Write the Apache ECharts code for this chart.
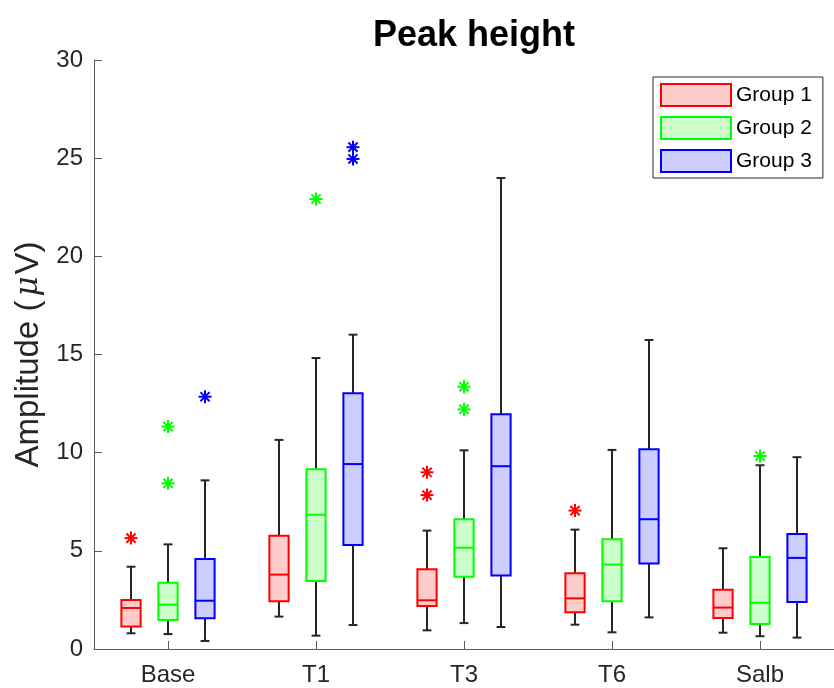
<!DOCTYPE html>
<html>
<head>
<meta charset="utf-8">
<title>Peak height</title>
<script src="https://cdn.jsdelivr.net/npm/echarts@6/dist/echarts.min.js"></script>
<style>
  html, body { margin: 0; padding: 0; background: #ffffff; }
  #chart { width: 834px; height: 688px; }
</style>
</head>
<body>
<div id="chart"></div>
<script>
// Sessions along the x axis
const categories = ['Base', 'T1', 'T3', 'T6', 'Salb'];
const groupNames = ['Group 1', 'Group 2', 'Group 3'];

// Box statistics per session: [lower whisker, Q1, median, Q3, upper whisker]
const group1Stats = [
  [0.80, 1.14, 2.09, 2.50, 4.19],
  [1.65, 2.43, 3.79, 5.77, 10.65],
  [0.95, 2.19, 2.48, 4.06, 6.03],
  [1.24, 1.87, 2.58, 3.86, 6.08],
  [0.83, 1.58, 2.11, 3.02, 5.13]
];
const group2Stats = [
  [0.76, 1.48, 2.26, 3.38, 5.33],
  [0.68, 3.46, 6.84, 9.15, 14.82],
  [1.32, 3.68, 5.16, 6.61, 10.12],
  [0.85, 2.43, 4.30, 5.59, 10.14],
  [0.65, 1.27, 2.36, 4.69, 9.36]
];
const group3Stats = [
  [0.41, 1.56, 2.46, 4.58, 8.59],
  [1.22, 5.30, 9.42, 13.03, 16.01],
  [1.12, 3.74, 9.31, 11.96, 23.99],
  [1.61, 4.35, 6.61, 10.17, 15.74],
  [0.58, 2.39, 4.64, 5.86, 9.77]
];

// Outliers: [session index, amplitude]
const group1Outliers = [[0, 5.65], [2, 9.00], [2, 7.84], [3, 7.05]];
const group2Outliers = [[0, 11.33], [0, 8.44], [1, 22.92], [2, 13.36], [2, 12.21], [4, 9.83]];
const group3Outliers = [[0, 12.85], [1, 25.56], [1, 24.96]];

// Y axis ticks
const yTicks = [0, 5, 10, 15, 20, 25, 30];

const edgeColors = ['#ff0000', '#00ff00', '#0000ff'];
const fillColors = ['#ffcccc', '#ccffcc', '#ccccff'];
const whiskerColor = '#262626';
const textColor = '#262626';
const fontFamily = '"Liberation Sans", Arial, Helvetica, sans-serif';

const allStats = [group1Stats, group2Stats, group3Stats];
const allOutliers = [group1Outliers, group2Outliers, group3Outliers];

// Horizontal placement inside a category band (fractions of band width)
const GROUP_OFFSET = 0.25;
const BOX_WIDTH = 0.13;
const CAP_WIDTH = 0.06;

function boxRenderer(g) {
  return function (params, api) {
    const cat = api.value(0);
    const band = api.size([1, 0])[0];
    const xc = api.coord([cat, 0])[0] + (g - 1) * GROUP_OFFSET * band;
    const py = k => api.coord([cat, api.value(k)])[1];
    const yLow = py(1), yQ1 = py(2), yMed = py(3), yQ3 = py(4), yHigh = py(5);
    const hw = BOX_WIDTH * band / 2;
    const cw = CAP_WIDTH * band / 2;
    const wStyle = { stroke: whiskerColor, lineWidth: 2 };
    return {
      type: 'group',
      children: [
        { type: 'line', shape: { x1: xc, y1: yQ3, x2: xc, y2: yHigh }, style: wStyle },
        { type: 'line', shape: { x1: xc, y1: yQ1, x2: xc, y2: yLow }, style: wStyle },
        { type: 'line', shape: { x1: xc - cw, y1: yHigh, x2: xc + cw, y2: yHigh }, style: wStyle },
        { type: 'line', shape: { x1: xc - cw, y1: yLow, x2: xc + cw, y2: yLow }, style: wStyle },
        {
          type: 'rect',
          shape: { x: xc - hw, y: yQ3, width: hw * 2, height: yQ1 - yQ3 },
          style: { fill: fillColors[g], stroke: edgeColors[g], lineWidth: 2 }
        },
        {
          type: 'line',
          shape: { x1: xc - hw, y1: yMed, x2: xc + hw, y2: yMed },
          style: { stroke: edgeColors[g], lineWidth: 2 }
        }
      ]
    };
  };
}

function outlierRenderer(g) {
  return function (params, api) {
    const cat = api.value(0);
    const band = api.size([1, 0])[0];
    const p = api.coord([cat, api.value(1)]);
    const x = p[0] + (g - 1) * GROUP_OFFSET * band;
    const y = p[1];
    const r = 6.5, d = 4.6;
    const st = { stroke: edgeColors[g], lineWidth: 2 };
    return {
      type: 'group',
      children: [
        { type: 'line', shape: { x1: x - r, y1: y, x2: x + r, y2: y }, style: st },
        { type: 'line', shape: { x1: x, y1: y - r, x2: x, y2: y + r }, style: st },
        { type: 'line', shape: { x1: x - d, y1: y - d, x2: x + d, y2: y + d }, style: st },
        { type: 'line', shape: { x1: x - d, y1: y + d, x2: x + d, y2: y - d }, style: st }
      ]
    };
  };
}

const series = [];
allStats.forEach((stats, g) => {
  series.push({
    name: groupNames[g],
    type: 'custom',
    renderItem: boxRenderer(g),
    itemStyle: { color: fillColors[g], borderColor: edgeColors[g], borderWidth: 2 },
    encode: { x: 0, y: [1, 2, 3, 4, 5] },
    data: stats.map((s, i) => [i].concat(s)),
    z: 2
  });
});
allOutliers.forEach((pts, g) => {
  series.push({
    name: groupNames[g] + ' outliers',
    type: 'custom',
    renderItem: outlierRenderer(g),
    encode: { x: 0, y: 1 },
    data: pts,
    z: 3
  });
});

const chart = echarts.init(document.getElementById('chart'), null, { renderer: 'canvas' });
chart.setOption({
  backgroundColor: '#ffffff',
  animation: false,
  title: {
    text: 'Peak height',
    left: 469,
    textAlign: 'center',
    top: 13,
    textStyle: { fontFamily, fontSize: 36, fontWeight: 'bold', color: '#000000' }
  },
  legend: {
    orient: 'vertical',
    left: 653,
    top: 77,
    padding: [6, 11, 5, 7],
    itemWidth: 70,
    itemHeight: 22,
    itemGap: 9,
    backgroundColor: '#ffffff',
    borderColor: '#262626',
    borderWidth: 1,
    textStyle: { fontFamily, fontSize: 21, color: '#000000' },
    data: groupNames.map((n, g) => ({
      name: n,
      icon: 'rect',
      itemStyle: { color: fillColors[g], borderColor: edgeColors[g], borderWidth: 2 }
    }))
  },
  grid: { left: 94, right: -10, top: 60, bottom: 39, containLabel: false },
  xAxis: {
    type: 'category',
    data: categories,
    boundaryGap: true,
    axisLine: { show: true, lineStyle: { color: '#5a5a5a', width: 1 } },
    axisTick: { show: true, inside: true, alignWithLabel: true, length: 8, lineStyle: { color: '#5a5a5a' } },
    axisLabel: { fontFamily, fontSize: 24, color: textColor, margin: 14 },
    splitLine: { show: false }
  },
  yAxis: {
    type: 'value',
    min: yTicks[0],
    max: yTicks[yTicks.length - 1],
    interval: 5,
    name: '{n|Amplitude (}{m|μ}{n|V)}',
    nameLocation: 'middle',
    nameGap: 48,
    nameRotate: 90,
    nameTextStyle: {
      fontFamily, fontSize: 33, color: textColor,
      rich: {
        n: { fontFamily, fontSize: 33, color: textColor },
        m: { fontFamily: '"DejaVu Serif", serif', fontStyle: 'italic', fontSize: 31, color: textColor, padding: [0, 2, 0, 4] }
      }
    },
    axisLine: { show: true, lineStyle: { color: '#5a5a5a', width: 1 } },
    axisTick: { show: true, inside: true, length: 8, lineStyle: { color: '#5a5a5a' } },
    axisLabel: { fontFamily, fontSize: 24, color: textColor, margin: 11 },
    splitLine: { show: false }
  },
  series
});
</script>
</body>
</html>
